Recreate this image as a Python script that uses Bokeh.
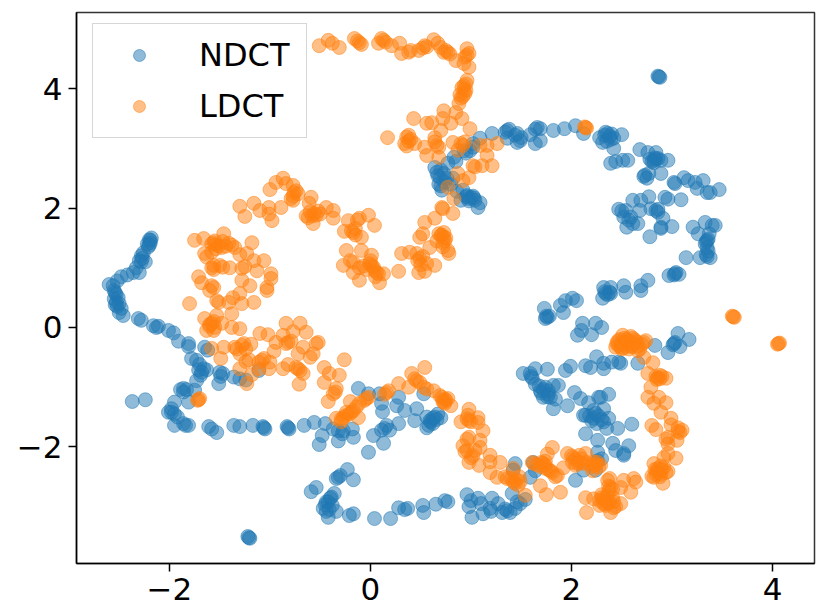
from bokeh.plotting import figure
from bokeh.models import Legend, LegendItem, FixedTicker, Range1d
from bokeh.embed import file_html
from bokeh.resources import INLINE

# points, (x, y)
ndct_arm = [
    (-2.18, 1.50), (-2.20, 1.47), (-2.19, 1.42), (-2.22, 1.40), (-2.21, 1.35), (-2.26, 1.25), (-2.28, 1.20),
    (-2.30, 1.12), (-2.24, 1.10), (-2.33, 1.00), (-2.30, 0.92), (-2.36, 0.92), (-2.42, 0.88), (-2.48, 0.85),
    (-2.52, 0.78), (-2.60, 0.72), (-2.56, 0.70), (-2.55, 0.62), (-2.53, 0.55), (-2.55, 0.48), (-2.53, 0.42),
    (-2.52, 0.35), (-2.48, 0.32), (-2.50, 0.25), (-2.46, 0.20), (-2.31, 0.15), (-2.28, 0.12), (-2.16, 0.03),
    (-2.11, 0.02), (-2.13, 0.0), (-2.01, -0.05), (-1.96, -0.09), (-1.91, -0.23), (-1.81, -0.27), (-1.81, -0.32),
    (-1.65, -0.33), (-1.62, -0.38), (-1.78, -0.52), (-1.73, -0.55), (-1.66, -0.69), (-1.71, -0.71),
    (-1.63, -0.71), (-1.69, -0.80), (-1.73, -0.89), (-1.50, -0.75), (-1.47, -0.77), (-1.51, -0.94),
    (-1.36, -0.83), (-1.30, -0.86), (-1.24, -0.88), (-1.11, -0.72), (-1.86, -1.02), (-1.83, -1.04),
    (-1.89, -1.04), (-1.75, -1.05), (-1.81, -1.25), (-1.95, -1.25), (-1.98, -1.42), (-2.01, -1.42),
    (-1.95, -1.45), (-1.95, -1.64), (-1.86, -1.61), (-1.81, -1.64), (-1.84, -1.64), (-2.37, -1.24),
    (-2.24, -1.21), (-1.61, -1.66), (-1.58, -1.70), (-1.53, -1.76), (-1.36, -1.64), (-1.30, -1.66),
    (-1.17, -1.64), (-1.06, -1.68), (-1.07, -1.66), (-1.05, -1.70), (-0.82, -1.68), (-0.83, -1.66),
    (-0.81, -1.70), (-0.66, -1.64), (-0.56, -1.59), (-0.45, -1.61), (-0.48, -1.81), (-0.51, -1.96),
    (-0.32, -1.73), (-0.27, -1.73), (-0.32, -1.90), (-0.17, -1.84), (-0.18, -1.70), (-0.37, -1.70),
    (-0.12, -1.02), (-0.02, -1.11), (0.03, -1.81), (-0.02, -2.09), (0.13, -1.94), (0.14, -1.69), (0.11, -1.72),
    (0.19, -1.72), (0.28, -1.61), (0.12, -1.41), (0.11, -1.27), (0.09, -1.11), (0.28, -1.17), (0.26, -1.31),
    (0.34, -1.39), (0.46, -1.36), (0.44, -1.56), (0.56, -1.68), (0.59, -1.56), (0.64, -1.50), (0.67, -1.45),
    (0.56, -1.50), (0.62, -1.61), (0.53, -1.11), (0.70, -1.51),
]
ndct_lower = [
    (-0.23, -2.38), (-0.32, -2.51), (-0.34, -2.53), (-0.17, -2.55), (-0.54, -2.68), (-0.59, -2.75),
    (-0.36, -2.78), (-0.40, -2.86), (-0.44, -2.92), (-0.47, -3.03), (-0.41, -3.05), (-0.34, -3.08),
    (-0.42, -3.18), (-0.45, -2.97), (-0.21, -3.15), (-0.17, -3.12), (0.04, -3.20), (0.20, -3.20),
    (0.28, -3.02), (0.34, -3.05), (0.37, -3.03), (0.52, -2.98), (0.53, -3.10), (0.65, -2.96), (0.74, -2.90),
    (-1.21, -3.52), (-1.22, -3.50), (-1.20, -3.53), (0.77, -2.92), (0.96, -2.80), (1.00, -2.90), (0.98, -3.00),
    (1.07, -2.86), (1.01, -3.18), (1.12, -3.12), (1.10, -2.95), (1.21, -2.86), (1.19, -3.03), (1.27, -2.95),
    (1.31, -3.10), (1.36, -3.07), (1.39, -3.10), (1.44, -3.03), (1.49, -2.95), (1.54, -2.88), (1.41, -2.78),
    (1.44, -2.28), (1.42, -2.39), (1.62, -2.26), (1.64, -2.40), (1.59, -2.51), (2.04, -2.56), (2.12, -2.39),
    (2.26, -2.09), (2.26, -1.89), (2.26, -2.23), (2.24, -2.39),
]
ndct_right = [
    (2.41, -1.94), (2.44, -2.06), (2.52, -2.11), (2.52, -2.14), (2.57, -1.98), (2.14, -1.78), (2.46, -1.69),
    (2.60, -1.62), (2.35, -1.69), (2.14, -1.47), (2.12, -1.47), (2.22, -1.52), (2.25, -1.61), (2.32, -1.58),
    (2.37, -1.52), (2.32, -1.36), (2.22, -1.39), (2.27, -1.17), (2.37, -1.12), (2.17, -1.26), (2.09, -1.19),
    (2.03, -1.09), (2.29, -1.17), (1.52, -0.77), (1.59, -0.77), (1.64, -0.69), (1.76, -0.70), (1.61, -0.85),
    (1.64, -0.95), (1.69, -1.06), (1.72, -1.17), (1.77, -1.06), (1.82, -0.97), (1.87, -0.97), (1.79, -1.17),
    (1.84, -1.20), (1.82, -1.36), (1.96, -1.31), (1.74, -1.00), (1.77, -1.12), (1.94, -0.72), (1.99, -0.65),
    (2.14, -0.64), (2.19, -0.67), (2.25, -0.49), (2.32, -0.60), (2.32, -0.69), (2.40, -0.58), (2.49, -0.60),
    (2.47, -0.58), (2.66, -0.60), (2.06, -0.13), (2.11, 0.07), (2.10, -0.05), (2.20, -0.12), (2.24, 0.07),
    (2.30, 0.00), (2.83, -0.30), (2.96, -0.42), (3.02, -0.27), (3.01, -0.29), (3.03, -0.25), (3.06, -0.10),
    (3.08, -0.32), (3.17, -0.20), (1.76, 0.17), (1.74, 0.15), (1.78, 0.19), (1.75, 0.19), (1.73, 0.32),
    (1.92, 0.25), (1.89, 0.37), (1.94, 0.45), (2.01, 0.49), (2.05, 0.45), (2.31, 0.49), (2.34, 0.57),
    (2.36, 0.55), (2.33, 0.60), (2.38, 0.59), (2.39, 0.57), (2.54, 0.59), (2.69, 0.62),
]
ndct_upper = [
    (2.32, 0.67), (2.39, 0.67), (2.52, 0.70), (2.69, 0.70), (2.76, 0.79), (2.97, 0.87), (3.03, 0.90), (3.02, 0.88),
    (3.04, 0.92), (3.07, 0.89), (3.14, 1.17), (3.28, 1.17), (3.35, 1.19), (3.38, 1.17), (3.35, 1.34), (3.35, 1.46),
    (3.34, 1.44), (3.36, 1.48), (3.37, 1.57), (3.26, 1.57), (3.21, 1.68), (3.33, 1.76), (3.40, 1.71), (3.43, 1.71),
    (2.47, 1.98), (2.54, 1.96), (2.52, 1.85), (2.55, 1.68), (2.61, 1.74), (2.66, 1.74), (2.59, 1.85), (2.61, 2.13),
    (2.69, 2.13), (2.68, 1.96), (2.77, 2.19), (2.79, 1.99), (2.84, 1.96), (2.86, 1.93), (2.93, 2.18), (2.96, 2.15),
    (3.09, 2.14), (2.91, 1.83), (2.89, 1.68), (2.89, 1.66), (3.00, 1.69), (2.78, 1.52), (3.02, 2.43), (3.03, 2.41),
    (3.12, 2.51), (3.16, 2.46), (3.23, 2.43), (3.25, 2.33), (3.31, 2.46), (3.35, 2.26), (3.38, 2.26), (3.47, 2.31),
    (2.73, 2.55), (2.72, 2.53), (2.75, 2.50), (2.77, 2.58), (2.89, 2.58), (2.68, 2.98), (2.76, 2.93), (2.84, 2.93),
    (2.82, 2.80), (2.80, 2.78), (2.84, 2.82), (2.83, 2.84), (2.89, 2.80), (2.96, 2.80), (2.39, 2.75), (2.44, 2.78),
    (2.51, 2.80), (2.56, 2.80), (2.42, 3.00), (2.31, 3.10), (2.34, 3.27), (2.36, 3.25), (2.33, 3.22), (2.38, 3.20),
    (2.39, 3.15), (2.42, 3.17), (2.50, 3.23), (2.28, 3.18), (2.12, 3.25), (2.04, 3.38), (1.93, 3.33), (1.82, 3.30),
    (1.66, 3.35), (1.64, 3.32), (1.69, 3.33), (1.59, 3.23), (1.64, 3.08), (1.69, 3.13), (1.49, 3.13), (1.46, 3.25),
    (1.44, 3.22), (1.36, 3.30), (1.34, 3.27), (1.38, 3.32), (1.36, 3.17), (1.21, 3.25), (1.09, 3.17), (1.02, 3.08),
    (0.99, 2.96), (0.93, 2.96), (0.83, 2.85), (0.77, 2.75), (0.70, 2.64), (2.87, 4.20), (2.86, 4.21), (2.88, 4.19),
    (1.00, 2.18), (0.98, 2.16), (1.02, 2.20), (0.96, 2.21), (1.04, 2.13), (1.09, 2.09), (1.07, 2.01), (0.90, 2.13),
    (0.73, 2.58), (0.80, 2.40), (0.64, 2.68), (0.69, 2.51), (0.71, 2.30), (0.66, 2.60), (0.74, 2.43), (0.86, 2.28),
    (0.82, 2.50), (0.92, 2.30), (0.68, 2.40),
]
# extra points where the blue clusters read darker
ndct_dense = [
    (-2.19, 1.46), (-2.20, 1.38), (-2.27, 1.16), (-2.28, 1.10), (-2.54, 0.58), (-2.51, 0.50), (-2.54, 0.38),
    (-2.50, 0.40), (-1.70, -0.62), (-1.68, -0.75), (-1.49, -0.82), (-1.86, -1.08), (-1.98, -1.36), (-1.92, -1.50),
    (-0.42, -2.92), (-0.38, -2.98), (-0.44, -3.08), (-0.39, -2.84), (-0.30, -2.48), (0.60, -1.58), (0.62, -1.52),
    (0.58, -1.64), (0.66, -1.54), (-0.28, -1.78), (0.16, -1.64), (1.34, -3.04), (1.20, -3.08), (1.46, -2.92),
    (1.68, -0.98), (1.70, -1.10), (1.72, -1.04), (1.76, -1.16), (1.60, -0.82), (2.18, -1.48), (2.20, -1.56),
    (2.27, -1.48), (2.30, -1.54), (2.24, -1.44), (2.30, -2.20), (3.34, 1.22), (3.36, 1.28), (3.33, 1.40),
    (2.57, 1.80), (2.50, 1.95), (2.86, 1.98), (2.82, 2.76), (2.86, 2.83), (2.78, 2.82), (2.35, 3.12), (2.40, 3.24),
    (1.50, 3.18), (1.46, 3.10), (0.95, 2.19), (0.98, 2.12), (1.03, 2.17), (0.67, 2.54), (0.70, 2.37), (0.76, 2.50),
    (1.02, 3.02), (0.95, 2.92), (0.85, 2.78),
]

ldct_top = [
    (-0.51, 4.72), (-0.42, 4.81), (-0.38, 4.76), (-0.31, 4.69), (-0.16, 4.84), (-0.11, 4.77), (-0.13, 4.80),
    (-0.09, 4.74), (0.08, 4.76), (0.13, 4.81), (0.15, 4.78), (0.11, 4.84), (0.21, 4.72), (0.29, 4.76), (0.31, 4.59),
    (0.38, 4.61), (0.40, 4.64), (0.48, 4.64), (0.54, 4.72), (0.56, 4.70), (0.52, 4.68), (0.63, 4.82), (0.67, 4.76),
    (0.73, 4.61), (0.70, 4.69), (0.77, 4.61), (0.75, 4.64), (0.79, 4.58), (0.85, 4.47), (0.96, 4.67), (0.96, 4.56),
    (0.94, 4.53), (0.98, 4.59), (0.93, 4.42), (0.98, 4.36), (0.93, 4.05), (0.91, 4.02), (0.95, 4.08), (0.96, 4.14),
    (0.95, 3.97), (0.90, 3.84), (0.92, 3.87), (0.89, 3.90), (0.88, 3.75), (0.73, 3.63), (0.85, 3.60), (0.91, 3.50),
    (0.80, 3.42), (0.72, 3.50), (0.70, 3.30), (0.99, 3.33), (0.92, 3.05), (0.90, 3.08), (0.94, 3.11), (0.87, 2.97),
    (1.09, 3.05), (1.16, 3.05), (1.26, 3.08), (1.16, 2.88), (1.02, 2.71), (1.04, 2.69), (1.11, 2.71), (1.21, 2.71),
    (0.87, 2.58), (0.92, 2.46), (0.98, 2.51), (0.77, 2.35), (0.83, 2.16), (0.72, 1.99), (0.82, 1.91), (0.73, 1.59),
    (0.71, 1.55), (0.75, 1.50), (0.74, 1.45), (0.72, 1.42), (0.77, 1.29), (0.78, 1.24),
]
ldct_center = [
    (0.43, 3.50), (0.17, 3.18), (0.56, 3.42), (0.61, 3.43), (0.38, 3.22), (0.36, 3.19), (0.40, 3.15), (0.34, 3.08),
    (0.44, 3.08), (0.54, 3.02), (0.64, 3.18), (0.66, 3.05), (0.68, 3.02), (0.56, 2.88), (0.68, 2.85), (0.71, 2.01),
    (0.54, 1.76), (0.64, 1.83), (0.49, 1.51), (0.52, 1.57), (0.59, 1.34), (0.68, 1.57), (0.70, 1.54), (0.73, 1.51),
    (0.31, 1.24), (0.39, 1.26), (0.49, 1.16), (0.47, 1.12), (0.52, 1.19), (0.28, 0.94), (0.48, 0.92), (0.56, 1.07),
    (0.64, 1.04), (0.54, 0.94), (-0.22, 1.79), (-0.11, 1.83), (-0.13, 1.80), (-0.02, 1.88), (0.04, 1.71),
    (-0.26, 1.61), (-0.17, 1.59), (-0.19, 1.62), (-0.15, 1.55), (-0.09, 1.51), (-0.24, 1.29), (-0.09, 1.29),
    (-0.27, 1.04), (-0.20, 1.12), (-0.17, 1.09), (-0.17, 0.92), (0.01, 1.21), (0.01, 1.04), (0.03, 1.01),
    (-0.01, 1.07), (0.04, 0.96), (-0.11, 1.00), (-0.07, 1.03), (-0.11, 0.79), (0.08, 0.90), (0.06, 0.92),
    (0.13, 0.90), (0.09, 0.75), (-1.30, 2.03), (-1.25, 1.86), (-1.16, 2.08), (-1.10, 1.96), (-1.01, 2.01),
    (-1.01, 1.90), (-0.98, 1.79), (-0.89, 2.01), (-1.00, 2.31), (-0.94, 2.43), (-0.87, 2.50), (-0.84, 2.41),
    (-0.77, 2.38), (-0.76, 2.26), (-0.74, 2.29), (-0.77, 2.13), (-0.79, 2.16), (-0.72, 2.24), (-0.59, 2.18),
    (-0.61, 2.08), (-0.62, 1.84), (-0.64, 1.87), (-0.56, 1.91), (-0.54, 1.88), (-0.58, 1.87), (-0.57, 1.74),
    (-0.44, 2.01), (-0.50, 1.90), (-0.37, 1.96), (-0.37, 1.83),
]
ldct_left = [
    (-1.75, 1.46), (-1.66, 1.49), (-1.56, 1.42), (-1.58, 1.40), (-1.54, 1.38), (-1.55, 1.45), (-1.46, 1.57),
    (-1.51, 1.37), (-1.48, 1.34), (-1.41, 1.41), (-1.38, 1.38), (-1.35, 1.34), (-1.18, 1.42), (-1.65, 1.24),
    (-1.58, 1.26), (-1.23, 1.24), (-1.30, 1.22), (-1.16, 1.12), (-1.06, 1.12), (-1.58, 1.00), (-1.56, 0.97),
    (-1.50, 1.04), (-1.47, 1.01), (-1.40, 1.00), (-1.28, 0.99), (-1.25, 1.02), (-1.13, 0.95), (-0.99, 0.90),
    (-0.99, 0.82), (-1.71, 0.85), (-1.68, 0.75), (-1.58, 0.70), (-1.56, 0.67), (-1.28, 0.79), (-1.20, 0.70),
    (-1.03, 0.67), (-1.60, 0.62), (-1.30, 0.57), (-1.37, 0.50), (-1.16, 0.42), (-1.80, 0.40), (-1.51, 0.42),
    (-1.53, 0.45), (-1.41, 0.42), (-1.28, 0.40), (-1.03, 0.62), (-1.38, 0.23), (-1.53, 0.20), (-1.65, 0.15),
    (-1.58, 0.07), (-1.60, 0.05), (-1.56, 0.10), (-1.48, 0.07), (-1.63, -0.05), (-1.56, -0.05), (-1.38, 0.00),
    (-1.30, -0.02), (-1.10, -0.10), (-1.02, -0.12), (-0.84, 0.07), (-0.70, 0.07), (-0.64, -0.08), (-0.77, -0.07),
    (-0.87, -0.13), (-0.52, -0.25), (-0.54, -0.27), (-0.94, -0.25), (-0.82, -0.25), (-0.84, -0.27), (-0.79, -0.23),
    (-0.67, -0.33), (-1.46, -0.33), (-1.35, -0.33), (-1.33, -0.36), (-1.26, -0.27), (-1.28, -0.30), (-1.24, -0.36),
    (-1.19, -0.28), (-1.58, -0.35), (-1.49, -0.52), (-1.30, -0.44), (-0.96, -0.40), (-0.72, -0.44), (-0.57, -0.44),
    (-0.60, -0.50), (-1.21, -0.54), (-1.24, -0.57), (-1.08, -0.55), (-1.11, -0.58), (-1.06, -0.52), (-1.00, -0.58),
    (-1.01, -0.69), (-0.87, -0.69), (-0.82, -0.62), (-0.72, -0.69), (-0.74, -0.67), (-0.70, -0.72), (-0.67, -0.77),
    (-0.71, -0.95), (-1.30, -0.69), (-1.23, -0.94), (-1.18, -0.79), (-1.11, -0.69), (-1.71, -1.21), (-1.70, -1.19),
    (-1.72, -1.22),
]
ldct_lower = [
    (-0.26, -0.54), (-0.46, -0.67), (-0.41, -0.77), (-0.31, -0.80), (-0.46, -0.92), (-0.34, -1.02), (-0.37, -1.11),
    (-0.35, -1.08), (-0.42, -1.24), (-0.20, -1.24), (0.54, -0.67), (0.41, -0.77), (0.46, -0.89), (0.44, -0.86),
    (0.49, -0.92), (0.28, -0.94), (0.53, -1.00), (0.56, -1.03), (0.38, -1.00), (0.16, -1.09), (0.14, -1.12),
    (0.18, -1.06), (0.63, -1.06), (0.71, -1.17), (0.69, -1.14), (0.74, -1.20), (0.72, -1.24), (0.74, -1.27),
    (-0.04, -1.19), (-0.06, -1.22), (-0.02, -1.17), (-0.11, -1.27), (-0.19, -1.42), (-0.17, -1.39), (-0.21, -1.45),
    (-0.12, -1.51), (-0.27, -1.51), (-0.25, -1.48), (-0.29, -1.53), (-0.34, -1.52), (-0.29, -1.58), (0.75, -1.22),
    (0.77, -1.19), (0.73, -1.25), (0.80, -1.31), (0.98, -1.37), (0.98, -1.56), (0.96, -1.53), (1.00, -1.58),
    (1.07, -1.51), (1.07, -1.59), (1.12, -1.73), (0.98, -1.84), (0.96, -1.87), (1.09, -1.89), (1.09, -2.01),
    (0.96, -2.06), (0.94, -2.08), (1.00, -2.18), (1.02, -2.15), (0.98, -2.26), (1.08, -2.31), (1.19, -2.14),
    (1.19, -2.25), (1.29, -2.26), (1.19, -2.43), (1.26, -2.51), (1.36, -2.53), (1.34, -2.50), (1.42, -2.36),
    (1.44, -2.61), (1.42, -2.58), (1.47, -2.64), (1.45, -2.55), (1.49, -2.58), (1.54, -2.81), (1.61, -2.26),
    (1.63, -2.28), (1.72, -2.28), (1.70, -2.26), (1.74, -2.31), (1.69, -2.33), (1.76, -2.12), (1.81, -2.01),
    (1.79, -2.40), (1.77, -2.38), (1.81, -2.43), (1.86, -2.48), (1.84, -2.50), (1.92, -2.35), (1.69, -2.65),
    (1.75, -2.80), (1.89, -2.76),
]
ldct_right = [
    (1.96, -2.11), (2.02, -2.18), (2.00, -2.15), (2.04, -2.21), (2.06, -2.28), (2.04, -2.31), (2.08, -2.26),
    (2.14, -2.11), (2.12, -2.28), (2.15, -2.26), (2.22, -2.31), (2.24, -2.29), (2.20, -2.33), (2.27, -2.34),
    (2.29, -2.31), (2.21, -2.40), (2.36, -2.56), (2.38, -2.53), (2.39, -2.68), (2.37, -2.66), (2.41, -2.71),
    (2.49, -2.68), (2.52, -2.56), (2.62, -2.53), (2.59, -2.76), (2.64, -2.59), (2.14, -2.85), (2.22, -2.87),
    (2.32, -2.87), (2.30, -2.85), (2.34, -2.90), (2.28, -2.90), (2.36, -2.95), (2.34, -2.98), (2.38, -2.93),
    (2.32, -2.95), (2.42, -3.02), (2.44, -3.00), (2.39, -3.10), (2.15, -3.10), (2.49, -2.95), (2.51, -0.13),
    (2.47, -0.30), (2.45, -0.27), (2.49, -0.33), (2.46, -0.23), (2.50, -0.36), (2.56, -0.27), (2.54, -0.24),
    (2.58, -0.31), (2.55, -0.20), (2.61, -0.18), (2.63, -0.21), (2.60, -0.25), (2.72, -0.25), (2.70, -0.28),
    (2.74, -0.22), (2.66, -0.39), (2.68, -0.36), (2.72, -0.50), (2.81, -0.59), (2.76, -0.77), (2.86, -0.84),
    (2.84, -0.82), (2.88, -0.86), (2.85, -0.87), (2.94, -0.85), (2.79, -1.00), (2.76, -1.17), (2.87, -1.17),
    (2.94, -1.26), (2.82, -1.27), (2.89, -1.42), (2.80, -1.64), (2.84, -1.71), (2.99, -1.52), (2.99, -1.63),
    (3.06, -1.68), (3.08, -1.76), (3.06, -1.74), (3.10, -1.72), (2.96, -1.84), (2.94, -1.87), (3.05, -1.89),
    (2.96, -1.95), (2.96, -2.11), (2.92, -2.18), (3.04, -2.19), (2.82, -2.28), (2.87, -2.43), (2.85, -2.40),
    (2.89, -2.46), (2.84, -2.46), (2.90, -2.38), (2.86, -2.36), (2.82, -2.51), (2.80, -2.49), (2.94, -2.43),
    (2.96, -2.41), (2.91, -2.61), (3.61, 0.18), (3.60, 0.19), (3.62, 0.17), (4.06, -0.27), (4.05, -0.28),
    (4.07, -0.26), (2.14, 3.35), (2.15, 3.34), (2.13, 3.36),
]
# extra points where the orange clusters read darker
ldct_dense = [
    (2.48, -0.20), (2.52, -0.26), (2.52, -0.34), (2.44, -0.33), (2.57, -0.36), (2.60, -0.32), (2.62, -0.28),
    (2.65, -0.24), (2.66, -0.31), (2.53, -0.18), (2.59, -0.15), (2.88, -0.80), (2.90, -0.82), (2.83, -2.38),
    (2.88, -2.50), (2.92, -2.34), (2.89, -2.32), (2.36, -2.82), (2.30, -2.80), (2.41, -2.85), (2.37, -2.75),
    (2.42, -2.92), (2.28, -2.98), (1.74, -2.36), (1.66, -2.30), (1.74, -2.24), (2.08, -2.14), (2.10, -2.20),
    (2.01, -2.26), (2.22, -2.25), (2.26, -2.26), (1.40, -2.53), (1.48, -2.50), (-0.24, -1.42), (-0.14, -1.33),
    (0.93, 3.98), (0.94, 3.92), (0.82, 3.10), (0.38, 3.12), (0.36, 3.04), (0.64, 3.11), (-1.54, 1.32),
    (-1.47, 1.44), (-1.44, 1.36), (-1.63, 1.18), (-1.60, 0.02), (-1.55, 0.00), (-1.56, 1.04), (-0.77, 2.20),
    (-0.60, 1.94), (-0.52, 1.95), (-0.15, 1.66), (0.00, 1.12), (-0.04, 0.97), (0.05, 0.85), (0.50, 1.05),
    (0.46, 1.24), (0.66, 1.45), (0.72, 1.35), (1.04, -2.06), (0.92, -1.98), (0.90, -1.58), (0.97, -1.47),
]

ndct = ndct_arm + ndct_lower + ndct_right + ndct_upper + ndct_dense
ldct = ldct_top + ldct_center + ldct_left + ldct_lower + ldct_right + ldct_dense
ndct_x, ndct_y = zip(*ndct)
ldct_x, ldct_y = zip(*ldct)

x_ticks = [-2, 0, 2, 4]
y_ticks = [-2, 0, 2, 4]
tick_labels = {-2: "\u22122", 0: "0", 2: "2", 4: "4"}

p = figure(width=820, height=612, output_backend="svg", toolbar_location=None,
           x_range=Range1d(-2.925, 4.418), y_range=Range1d(-3.953, 5.276),
           min_border_left=76, min_border_right=6, min_border_top=12, min_border_bottom=49)
p.grid.visible = False
p.outline_line_color = "#333333"
p.outline_line_width = 1.5

blue = p.scatter(ndct_x, ndct_y, size=14, color="#1f77b4", alpha=0.5)
orange = p.scatter(ldct_x, ldct_y, size=14, color="#ff7f0e", alpha=0.5)

p.xaxis.ticker = FixedTicker(ticks=x_ticks)
p.yaxis.ticker = FixedTicker(ticks=y_ticks)
for ax in [p.xaxis[0], p.yaxis[0]]:
    ax.major_label_overrides = tick_labels
    ax.major_label_text_font = "DejaVu Sans"
    ax.major_label_text_font_size = "31px"
    ax.major_label_text_color = "black"
    ax.major_label_standoff = 6
    ax.major_tick_in = 0
    ax.major_tick_out = 8
    ax.major_tick_line_color = "black"
    ax.major_tick_line_width = 1.5
    ax.minor_tick_line_color = None
    ax.axis_line_color = "black"
    ax.axis_line_width = 1.5
p.yaxis[0].major_label_orientation = "horizontal"

legend = Legend(items=[LegendItem(label="NDCT", renderers=[blue]),
                       LegendItem(label="LDCT", renderers=[orange])],
                location=(16, 425), orientation="vertical", margin=0, padding=12, spacing=13,
                glyph_width=68, glyph_height=30, label_height=30, label_width=95, label_standoff=26,
                label_text_font="DejaVu Sans", label_text_font_size="32px", label_text_color="black",
                border_line_color="#cccccc", border_line_alpha=0.8, border_line_width=1.5,
                background_fill_alpha=0.8)
p.add_layout(legend)

open("out.html", "w").write(file_html(p, INLINE))
